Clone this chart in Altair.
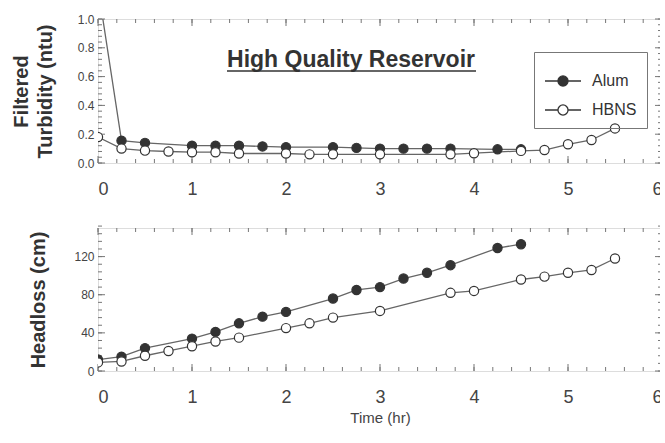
import altair as alt
import pandas as pd

# ---- data ----
alum_time = [0, 0.25, 0.5, 1.0, 1.25, 1.5, 1.75, 2.0, 2.5, 2.75, 3.0, 3.25, 3.5, 3.75, 4.25, 4.5]
alum_turbidity = [1.22, 0.155, 0.14, 0.12, 0.12, 0.12, 0.115, 0.11, 0.11, 0.105, 0.10, 0.10, 0.10, 0.10, 0.095, 0.095]
alum_headloss = [12, 15, 24, 34, 41, 50, 57, 62, 76, 85, 88, 97, 103, 111, 129, 133]

hbns_time = [0, 0.25, 0.5, 0.75, 1.0, 1.25, 1.5, 2.0, 2.25, 2.5, 3.0, 3.75, 4.0, 4.5, 4.75, 5.0, 5.25, 5.5]
hbns_turbidity = [0.18, 0.10, 0.086, 0.08, 0.075, 0.075, 0.066, 0.066, 0.06, 0.06, 0.06, 0.06, 0.068, 0.084, 0.09, 0.13, 0.16, 0.24]
hbns_headloss = [9, 10, 16, 21, 26, 31, 35, 45, 50, 56, 63, 82, 84, 96, 99, 103, 106, 118]

series_names = ["Alum", "HBNS"]
x_labels = [0, 1, 2, 3, 4, 5, 6]
turb_labels = [0.0, 0.2, 0.4, 0.6, 0.8, 1.0]
head_labels = [0, 40, 80, 120]
chart_title = "High Quality Reservoir"

# ---- styling ----
W = 564
H_TOP = 144
H_BOT = 143
AX = "#777777"
LINE = "#666666"
DARK = "#333333"
TXT = "#444444"
FONT = "Liberation Sans"


def frame(values, name):
    return pd.DataFrame({name: values})


def build(values_alum, values_hbns, ydom, ylabels, yminor_step, ytitle, H,
          xtitle, xlabpad, ytitlepad, legend):
    df = pd.concat([
        pd.DataFrame({"t": alum_time, "v": values_alum, "series": "Alum"}),
        pd.DataFrame({"t": hbns_time, "v": values_hbns, "series": "HBNS"}),
    ])
    xenc = alt.X("t:Q", scale=alt.Scale(domain=[0, 6], nice=False, zero=False),
                 axis=alt.Axis(values=x_labels, format="d", ticks=False, grid=False,
                               domain=False, labelFontSize=18, labelColor=TXT,
                               labelPadding=xlabpad, labelFont=FONT,
                               title=xtitle, titleFont=FONT, titleFontSize=15,
                               titleFontWeight="normal", titleColor=TXT,
                               titlePadding=4))
    yenc = alt.Y("v:Q", scale=alt.Scale(domain=ydom, nice=False, zero=False),
                 axis=alt.Axis(values=ylabels, ticks=False, grid=False, domain=False,
                               labelFontSize=12, labelColor=TXT, labelPadding=4,
                               labelFont=FONT, format=".1f" if ydom[1] <= 1 else "d",
                               title=ytitle, titleFont=FONT, titleFontSize=20,
                               titleFontWeight="bold", titleColor=DARK,
                               titlePadding=ytitlepad, titleLineHeight=24))
    base = alt.Chart(df)
    lines = base.mark_line(color=LINE, strokeWidth=1.3, clip=True).encode(
        x=xenc, y=yenc, detail="series:N")
    fill_scale = alt.Scale(domain=series_names, range=[DARK, "white"])
    if legend:
        leg = alt.Legend(
            title=None, orient="none", legendX=436, legendY=33,
            labelFont=FONT, labelFontSize=16, labelColor=DARK,
            symbolType="M-1,0L-0.28,0M0.28,0L1,0M0.28,0A0.28,0.28 0 1,1 -0.28,0A0.28,0.28 0 1,1 0.28,0",
            symbolSize=1296, symbolStrokeColor=DARK, symbolStrokeWidth=1.3,
            strokeColor=AX, padding=10, rowPadding=2, labelOffset=10,
        )
    else:
        leg = None
    points = base.mark_point(shape="circle", filled=True, size=85, stroke=DARK,
                             strokeWidth=1.2, opacity=1, clip=True).encode(
        x=xenc, y=yenc,
        fill=alt.Fill("series:N", scale=fill_scale, legend=leg))

    # inward ticks on all four sides
    xmin = frame([round(0.2 * i, 1) for i in range(31)], "t")
    xmaj = frame(x_labels, "t")
    ystep = yminor_step
    n = int(round((ydom[1] - ydom[0]) / ystep))
    ymin = frame([round(ydom[0] + ystep * i, 4) for i in range(n + 1)], "v")
    ymaj = frame(ylabels, "v")
    ticks = []
    for d, L in ((xmin, 4), (xmaj, 7)):
        ticks.append(alt.Chart(d).mark_rule(color=AX, strokeWidth=1).encode(
            x=xenc, y=alt.value(H), y2=alt.value(H - L)))
        ticks.append(alt.Chart(d).mark_rule(color=AX, strokeWidth=1).encode(
            x=xenc, y=alt.value(0), y2=alt.value(L)))
    for d, L in ((ymin, 4), (ymaj, 7)):
        ticks.append(alt.Chart(d).mark_rule(color=AX, strokeWidth=1).encode(
            y=yenc, x=alt.value(0), x2=alt.value(L)))
        ticks.append(alt.Chart(d).mark_rule(color=AX, strokeWidth=1).encode(
            y=yenc, x=alt.value(W), x2=alt.value(W - L)))

    layers = ticks + [lines, points]
    return alt.layer(*layers).properties(width=W, height=H)


top = build(alum_turbidity, hbns_turbidity, [0, 1.0], turb_labels, 0.04,
            ["Filtered", "Turbidity (ntu)"], H_TOP, None, 17, 22, True)

title_df = pd.DataFrame({"label": [chart_title]})
title_txt = alt.Chart(title_df).mark_text(
    font=FONT, fontSize=23, fontWeight="bold", color=DARK, baseline="alphabetic"
).encode(text="label:N", x=alt.value(253), y=alt.value(48))
underline = alt.Chart(title_df).mark_rule(color=DARK, strokeWidth=1.5).encode(
    x=alt.value(129), x2=alt.value(378), y=alt.value(52))
top = alt.layer(top, title_txt, underline)

bottom = build(alum_headloss, hbns_headloss, [0, 150], head_labels, 8,
               "Headloss (cm)", H_BOT, "Time (hr)", 17, 25, False)

chart = alt.vconcat(top, bottom, spacing=26).resolve_scale(
    fill="independent").resolve_legend(fill="independent").properties(
    padding={"left": 10, "top": 12, "right": -3, "bottom": 0}
).configure_view(stroke=AX, strokeWidth=1).configure(background="white")

chart.save("out.html", embed_options={"renderer": "svg", "actions": False})
